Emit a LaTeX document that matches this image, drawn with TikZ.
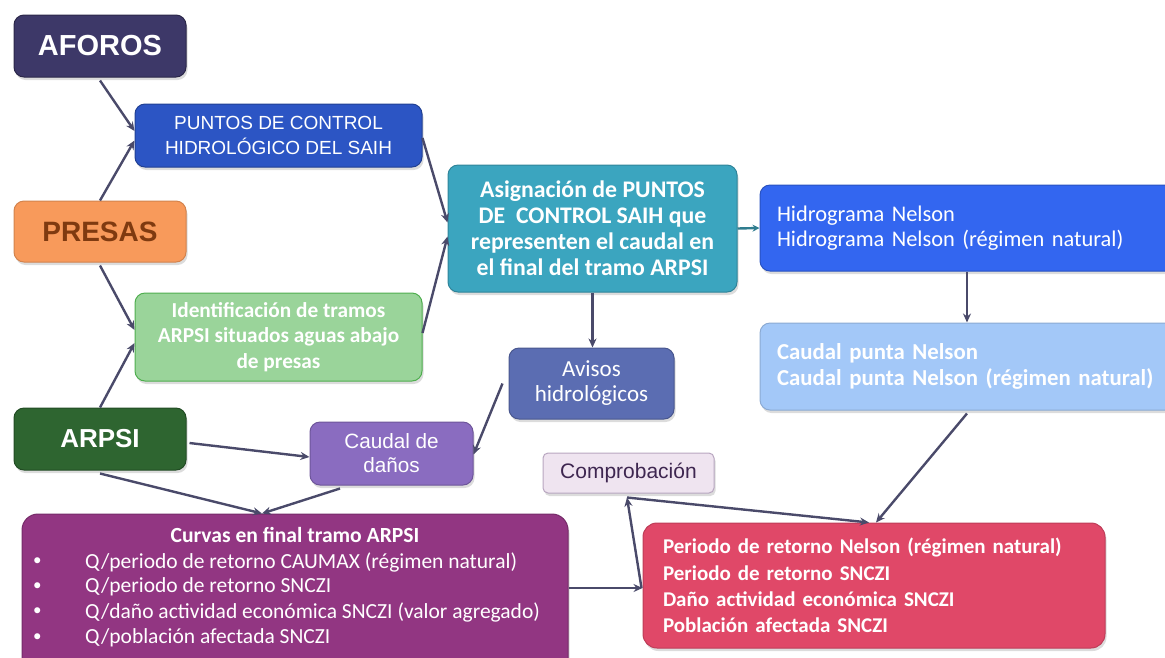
\documentclass[tikz,border=0pt]{standalone}
\usepackage{fontspec}
\setmainfont{Liberation Sans}
\newfontfamily\carl{Carlito}
\usetikzlibrary{arrows.meta,shadows,calc}
\definecolor{aforosc}{HTML}{3D3868}
\definecolor{puntosc}{HTML}{2C55C4}
\definecolor{presasc}{HTML}{F89A5B}
\definecolor{presast}{HTML}{7F3A10}
\definecolor{identc}{HTML}{9AD49A}
\definecolor{identd}{HTML}{4FAE4F}
\definecolor{arpsic}{HTML}{2E6530}
\definecolor{asigc}{HTML}{3BA5BF}
\definecolor{hidroc}{HTML}{3366F0}
\definecolor{caudalpc}{HTML}{A3C8F8}
\definecolor{avisosc}{HTML}{5B6DB2}
\definecolor{cdanosc}{HTML}{8A6CC0}
\definecolor{comproc}{HTML}{EFE4F0}
\definecolor{comprot}{HTML}{3E2650}
\definecolor{comprod}{HTML}{B8A6C0}
\definecolor{curvasc}{HTML}{923682}
\definecolor{periodoc}{HTML}{E04868}
\definecolor{arrowc}{HTML}{4A4A6A}
\definecolor{tealarr}{HTML}{2F7D8F}
\begin{document}
\begin{tikzpicture}[x=1pt,y=-1pt,
  box/.style={rectangle, rounded corners=10pt, line width=1pt, inner sep=0pt,
    drop shadow={shadow xshift=1.5pt,shadow yshift=-3pt,opacity=0.28},
    text=white, align=center},
  arr/.style={-{Stealth[length=9pt,width=8pt]}, line width=2.4pt, draw=arrowc},
  txt/.style={inner sep=0pt, text=white}
]
\useasboundingbox (0,0) rectangle (1165,657);

% boxes
\node[box, fill=aforosc, draw=aforosc!70!black, minimum width=172pt, minimum height=62pt,
  font=\fontsize{29}{34}\selectfont\bfseries] (aforos) at (100,46) {AFOROS};
\node[box, fill=puntosc, draw=puntosc!75!black, minimum width=287pt, minimum height=63pt,
  font=\fontsize{19}{25}\selectfont] (puntos) at (278.5,135.5) {PUNTOS DE CONTROL\\HIDROLÓGICO DEL SAIH};
\node[box, fill=presasc, draw=presasc!85!black, minimum width=172pt, minimum height=61pt,
  text=presast, font=\fontsize{28}{34}\selectfont\bfseries] (presas) at (100,231.5) {PRESAS};
\node[box, fill=identc, draw=identd, minimum width=287pt, minimum height=88pt,
  font=\carl\fontsize{21.3}{25.5}\selectfont\bfseries] (ident) at (278.5,337)
  {Identificación de tramos\\ARPSI situados aguas abajo\\de presas};
\node[box, fill=arpsic, draw=arpsic!75!black, minimum width=172pt, minimum height=62pt,
  font=\fontsize{26}{32}\selectfont\bfseries] (arpsi) at (100,439) {ARPSI};
\node[box, fill=asigc, draw=asigc!80!black, minimum width=289pt, minimum height=127pt,
  font=\carl\fontsize{23.8}{26}\selectfont\bfseries] (asig) at (592.5,228.5)
  {Asignación de PUNTOS\\DE~ CONTROL SAIH que\\representen el caudal en\\el final del tramo ARPSI};
\node[box, fill=hidroc, draw=hidroc!80!black, minimum width=430pt, minimum height=86pt,
  text width=396pt, align=left, inner xsep=17pt,
  font=\carl\fontsize{22.4}{25}\selectfont] (hidro) at (975,228)
  {Hidrograma Nelson\\Hidrograma Nelson (régimen natural)};
\node[box, fill=caudalpc, draw=caudalpc!85!black, minimum width=430pt, minimum height=87pt,
  text width=396pt, align=left, inner xsep=17pt,
  font=\carl\fontsize{22.8}{26}\selectfont\bfseries] (caudalp) at (975,366.5)
  {Caudal punta Nelson\\Caudal punta Nelson (régimen natural)};
\node[box, fill=avisosc, draw=avisosc!80!black, minimum width=165pt, minimum height=71pt,
  font=\carl\fontsize{23}{25}\selectfont] (avisos) at (591.5,383.5) {Avisos\\hidrológicos};
\node[box, fill=cdanosc, draw=cdanosc!80!black, minimum width=163pt, minimum height=63pt,
  font=\fontsize{20.7}{24}\selectfont] (cdanos) at (391.5,453.5) {Caudal de\\daños};
\node[box, fill=comproc, draw=comprod, rounded corners=5pt, minimum width=171pt, minimum height=40pt,
  text=comprot, font=\fontsize{21}{24}\selectfont] (compro) at (628.5,473) {Comprobación};
\node[box, fill=curvasc, draw=curvasc!80!black, rounded corners=16pt, minimum width=546pt, minimum height=170pt]
  (curvas) at (295,599) {};
\node[box, fill=periodoc, draw=periodoc!85!black, rounded corners=14pt, minimum width=462pt, minimum height=125pt,
  text width=422pt, align=left, inner xsep=20pt,
  font=\carl\fontsize{21}{26.3}\selectfont\bfseries] (periodo) at (874,585.5)
  {Periodo de retorno Nelson (régimen natural)\\Periodo de retorno SNCZI\\Daño actividad económica SNCZI\\Población afectada SNCZI};

% curvas texts
\begin{scope}[every node/.style={txt, font=\carl\fontsize{21.5}{25}\selectfont}]
\node[font=\carl\fontsize{21.6}{25}\selectfont\bfseries] (ctitle) at (295,535) {Curvas en final tramo ARPSI};
\node[anchor=west, font=\carl\fontsize{17}{20}\selectfont] (b1) at (33,562) {•};
\node[anchor=west, font=\carl\fontsize{17}{20}\selectfont] (b2) at (33,587) {•};
\node[anchor=west, font=\carl\fontsize{17}{20}\selectfont] (b3) at (33,612) {•};
\node[anchor=west, font=\carl\fontsize{17}{20}\selectfont] (b4) at (33,638) {•};
\node[anchor=west] (l1) at (85,562) {Q/periodo de retorno CAUMAX (régimen natural)};
\node[anchor=west] (l2) at (85,587) {Q/periodo de retorno SNCZI};
\node[anchor=west] (l3) at (85,612) {Q/daño actividad económica SNCZI (valor agregado)};
\node[anchor=west] (l4) at (85,638) {Q/población afectada SNCZI};
\end{scope}

% connectors
\draw[arr] ([yshift=-3pt]aforos.south) -- ([yshift=4.5pt]puntos.west);
\draw[arr] (presas.north) -- ([yshift=-5pt]puntos.west);
\draw[arr] ([yshift=-3pt]presas.south) -- ([yshift=7pt]ident.west);
\draw[arr] (arpsi.north) -- ([yshift=-6pt]ident.west);
\draw[arr] ([yshift=-2.5pt]puntos.east) -- ([yshift=6pt]asig.west);
\draw[arr] ([yshift=4pt]ident.east) -- ([yshift=-8pt]asig.west);
\draw[-{Stealth[length=7pt,width=7pt]}, line width=2.4pt, draw=tealarr] (asig.east) -- (hidro.west);
\draw[arr] (asig.south) -- (asig.south |- avisos.north);
\draw[arr] ([xshift=-8pt]hidro.south) -- ([xshift=-8pt]caudalp.north);
\draw[arr] ([xshift=-6pt]avisos.west) -- ([yshift=-1pt]cdanos.east);
\draw[arr] ([xshift=3pt,yshift=-4pt]arpsi.east) -- ([yshift=-3.5pt]cdanos.west);
\draw[arr] ([yshift=-3pt]arpsi.south) -- ([xshift=-33pt]curvas.north);
\draw[arr] ([xshift=-51.5pt,yshift=-3pt]cdanos.south) -- ([xshift=-33pt]curvas.north);
\draw[arr] ([xshift=-8pt,yshift=-3pt]caudalp.south) -- ([xshift=2pt]periodo.north);
\draw[arr] ([yshift=11pt]curvas.east) -- ([yshift=-2.5pt]periodo.west);
\draw[arr] ([xshift=-1pt,yshift=-2.5pt]periodo.west) -- ([xshift=-1.5pt,yshift=-4pt]compro.south);
\draw[arr] ([xshift=-1.5pt,yshift=-4pt]compro.south) -- ([xshift=-5pt]periodo.north);
\end{tikzpicture}
\end{document}
